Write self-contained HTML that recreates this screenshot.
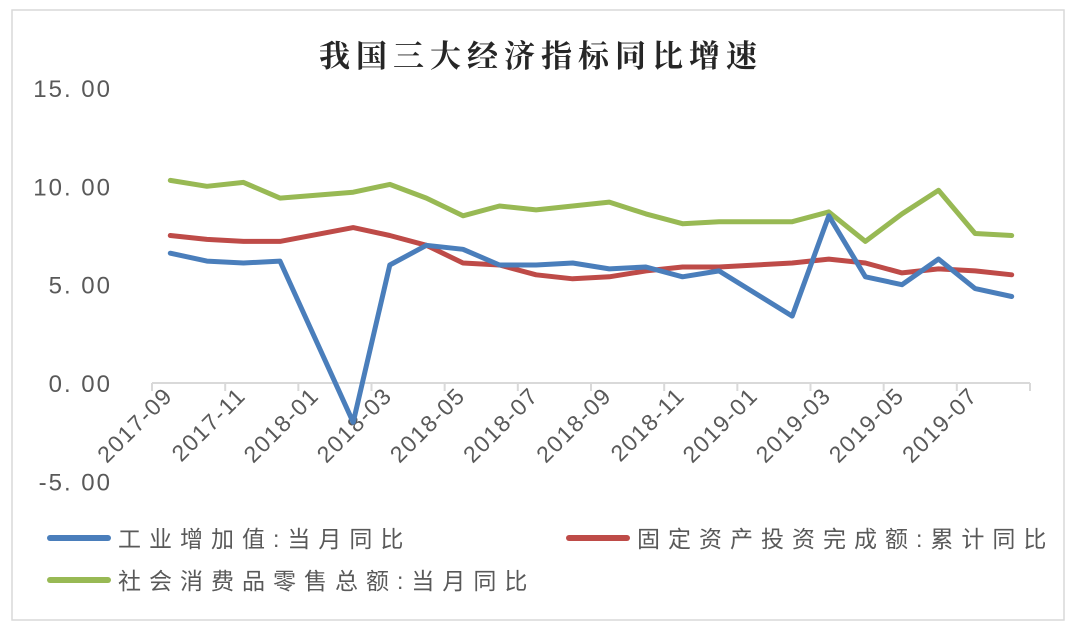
<!DOCTYPE html>
<html><head><meta charset="utf-8"><style>
html,body{margin:0;padding:0;background:#fff;}
svg text{font-family:"Liberation Sans","Noto Sans CJK SC",sans-serif;}
</style></head><body>
<svg width="1080" height="632" viewBox="0 0 1080 632">
<rect x="12" y="10" width="1052" height="610" fill="#fff" stroke="#d9d9d9" stroke-width="1.5"/>
<text x="541" y="67" text-anchor="middle" font-size="31" font-weight="bold" fill="#262626" style="font-family:'Liberation Serif','Noto Serif CJK SC',serif;letter-spacing:6px">我国三大经济指标同比增速</text>
<g id="yaxis"></g>
<g id="xaxis"></g>
<g id="series"></g>
<g font-size="23" fill="#595959">
<line x1="50" y1="538" x2="108" y2="538" stroke="#4a7ebb" stroke-width="6" stroke-linecap="round"/>
<text x="118" y="547" style="letter-spacing:8px" fill="#595959">工业增加值:当月同比</text>
<line x1="569" y1="538" x2="627" y2="538" stroke="#be4b48" stroke-width="6" stroke-linecap="round"/>
<text x="637" y="547" style="letter-spacing:8px" fill="#595959">固定资产投资完成额:累计同比</text>
<line x1="50" y1="580" x2="108" y2="580" stroke="#98b954" stroke-width="6" stroke-linecap="round"/>
<text x="118" y="589" style="letter-spacing:8px" fill="#595959">社会消费品零售总额:当月同比</text>
</g>
</svg>
<script>
const categories=["2017-09","2017-10","2017-11","2017-12","2018-01","2018-02","2018-03","2018-04","2018-05","2018-06","2018-07","2018-08","2018-09","2018-10","2018-11","2018-12","2019-01","2019-02","2019-03","2019-04","2019-05","2019-06","2019-07","2019-08"];
const industry=[6.6,6.2,6.1,6.2,null,-2.0,6.0,7.0,6.8,6.0,6.0,6.1,5.8,5.9,5.4,5.7,null,3.4,8.5,5.4,5.0,6.3,4.8,4.4];
const investment=[7.5,7.3,7.2,7.2,null,7.9,7.5,7.0,6.1,6.0,5.5,5.3,5.4,5.7,5.9,5.9,null,6.1,6.3,6.1,5.6,5.8,5.7,5.5];
const retail=[10.3,10.0,10.2,9.4,null,9.7,10.1,9.4,8.5,9.0,8.8,9.0,9.2,8.6,8.1,8.2,null,8.2,8.7,7.2,8.6,9.8,7.6,7.5];
const yTicks=[15,10,5,0,-5];
const yTickLabels=["15. 00","10. 00","5. 00","0. 00","-5. 00"];
const NS="http://www.w3.org/2000/svg";
const X0=152,X1=1030,Y15=88,Y0=383;
const bw=(X1-X0)/categories.length;
const yS=v=>Y0-(Y0-Y15)*v/15;
const xS=i=>X0+bw*(i+0.5);
function mk(t,a,p){const e=document.createElementNS(NS,t);for(const k in a)e.setAttribute(k,a[k]);p.appendChild(e);return e;}
const ya=document.getElementById('yaxis');
yTicks.forEach((v,i)=>{const t=mk('text',{x:112,y:yS(v)+9,'text-anchor':'end','font-size':'24',fill:'#595959',style:'letter-spacing:2px'},ya);t.textContent=yTickLabels[i];

});
const xa=document.getElementById('xaxis');
const ax=mk('line',{x1:X0,y1:Y0,x2:X1,y2:Y0,stroke:'#d9d9d9','stroke-width':2},xa);


for(let i=0;i<=categories.length;i+=2){const x=X0+bw*i;const tk=mk('line',{x1:x,y1:Y0,x2:x,y2:Y0+8,stroke:'#d9d9d9','stroke-width':2},xa);


if(i<categories.length){const t=mk('text',{x:x+22,y:Y0+14,'text-anchor':'end','font-size':'23',fill:'#595959',style:'letter-spacing:1.5px',transform:`rotate(-45 ${x+22} ${Y0+14})`},xa);t.textContent=categories[i];

}}
const sg=document.getElementById('series');
[[investment,'#be4b48','line-investment'],[retail,'#98b954','line-retail'],[industry,'#4a7ebb','line-industry']].forEach(([d,c,n])=>{
let pts=[];d.forEach((v,i)=>{if(v!==null)pts.push(xS(i).toFixed(1)+','+yS(v).toFixed(1));});
const p=mk('polyline',{points:pts.join(' '),fill:'none',stroke:c,'stroke-width':5,'stroke-linejoin':'round','stroke-linecap':'round'},sg);

});
</script>
</body></html>
